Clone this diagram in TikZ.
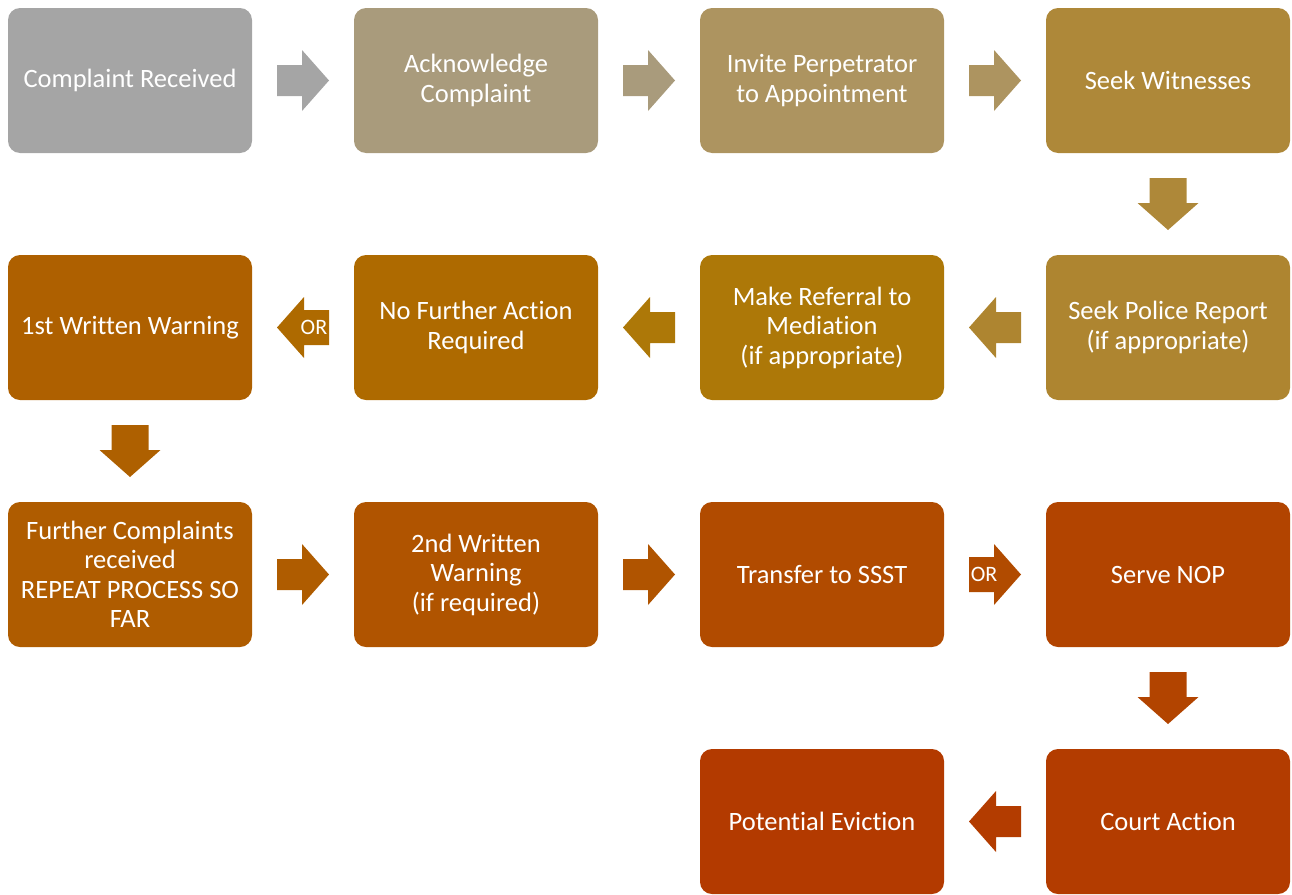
\documentclass[tikz,border=0pt]{standalone}
\usepackage{fontspec}
\setmainfont{Carlito}[Ligatures=NoCommon]
\usetikzlibrary{calc}
\definecolor{c1}{HTML}{A5A5A5}
\definecolor{c2}{HTML}{A99B7C}
\definecolor{c3}{HTML}{AD9460}
\definecolor{c4}{HTML}{AE8839}
\definecolor{c5}{HTML}{AE8530}
\definecolor{c6}{HTML}{AD7808}
\definecolor{c7}{HTML}{AE6A00}
\definecolor{c8}{HTML}{AE6000}
\definecolor{c9}{HTML}{AF5C00}
\definecolor{c10}{HTML}{B05400}
\definecolor{c11}{HTML}{B14B00}
\definecolor{c12}{HTML}{B24400}
\definecolor{c13}{HTML}{B33C00}
\definecolor{c14}{HTML}{B33A00}
\tikzset{
  box/.style={fill=#1, rounded corners=12pt, minimum width=244pt, minimum height=145pt,
    inner sep=0pt, text=white, align=center, font=\fontsize{26.5}{29.5}\selectfont},
  orlabel/.style={text=white, inner sep=0pt, font=\fontsize{22}{22}\selectfont}
}
% #1 from anchor, #2 to anchor, #3 colour, #4 rotation, #5 shaft half width, #6 label
\newcommand\blockarrow[6]{%
  \begin{scope}[shift={($(#1)!0.5!(#2)$)}, rotate=#4]
    \fill[#3] (-26,-#5) -- (-1,-#5) -- (-1,-30.5) -- (26,0) -- (-1,30.5) -- (-1,#5) -- (-26,#5) -- cycle;
    \node[orlabel] at (-11,0) {#6};
  \end{scope}}
\begin{document}
\begin{tikzpicture}[x=1pt, y=-1pt]
\useasboundingbox (0,0) rectangle (1292,894);
\node[box=c1] (b1) at (130,80.5) {Complaint Received};
\node[box=c2] (b2) at (476,80.5) {Acknowledge\\Complaint};
\node[box=c3] (b3) at (822,80.5) {Invite Perpetrator\\to Appointment};
\node[box=c4] (b4) at (1168,80.5) {Seek Witnesses};
\node[box=c5] (b5) at (1168,327.5) {Seek Police Report\\(if appropriate)};
\node[box=c6] (b6) at (822,327.5) {Make Referral to\\Mediation\\(if appropriate)};
\node[box=c7] (b7) at (476,327.5) {No Further Action\\Required};
\node[box=c8] (b8) at (130,327.5) {1st Written Warning};
\node[box=c9] (b9) at (130,574.5) {Further Complaints\\received\\REPEAT PROCESS SO\\FAR};
\node[box=c10] (b10) at (476,574.5) {2nd Written\\Warning\\(if required)};
\node[box=c11] (b11) at (822,574.5) {Transfer to SSST};
\node[box=c12] (b12) at (1168,574.5) {Serve NOP};
\node[box=c13] (b13) at (1168,821.5) {Court Action};
\node[box=c14] (b14) at (822,821.5) {Potential Eviction};

\blockarrow{b1.east}{b2.west}{c1}{0}{15.5}{}
\blockarrow{b2.east}{b3.west}{c2}{0}{15.5}{}
\blockarrow{b3.east}{b4.west}{c3}{0}{15.5}{}
\blockarrow{b4.south}{b5.north}{c4}{-90}{18.5}{}
\blockarrow{b5.west}{b6.east}{c5}{180}{15.5}{}
\blockarrow{b6.west}{b7.east}{c6}{180}{15.5}{}
\blockarrow{b7.west}{b8.east}{c7}{180}{17.5}{OR}
\blockarrow{b8.south}{b9.north}{c8}{-90}{18.5}{}
\blockarrow{b9.east}{b10.west}{c9}{0}{15.5}{}
\blockarrow{b10.east}{b11.west}{c10}{0}{15.5}{}
\blockarrow{b11.east}{b12.west}{c11}{0}{17.5}{OR}
\blockarrow{b12.south}{b13.north}{c12}{-90}{18.5}{}
\blockarrow{b13.west}{b14.east}{c13}{180}{15.5}{}
\end{tikzpicture}
\end{document}
